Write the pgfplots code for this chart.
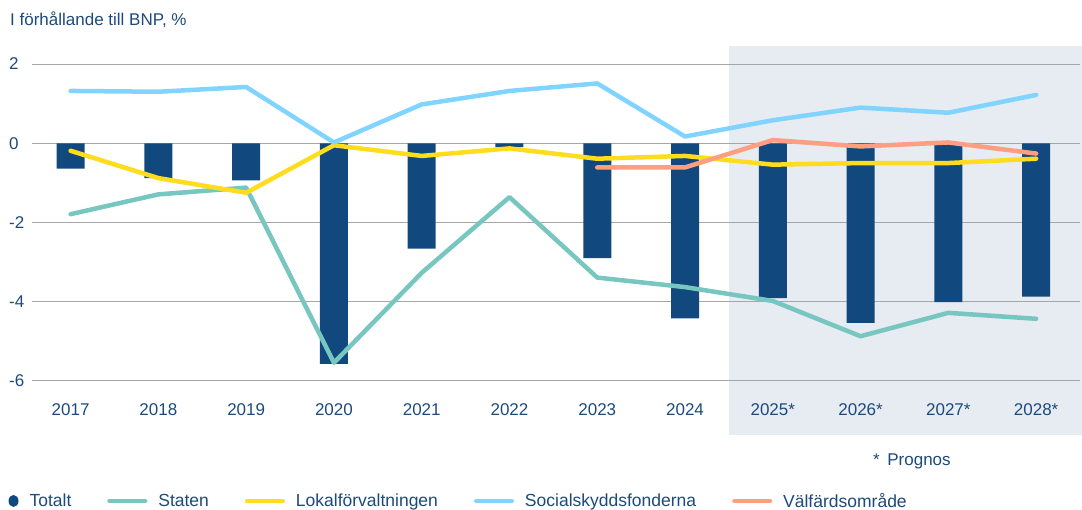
\documentclass[border=0pt]{standalone}
\usepackage{fontspec}
\setmainfont{Liberation Sans}
\usepackage{pgfplots}
\pgfplotsset{compat=1.18}

\definecolor{textblue}{RGB}{28,74,124}
\definecolor{gridgray}{RGB}{166,166,166}
\definecolor{prognosbg}{RGB}{231,235,242}
\definecolor{totalt}{RGB}{17,73,126}
\definecolor{staten}{RGB}{120,198,192}
\definecolor{lokal}{RGB}{255,221,30}
\definecolor{social}{RGB}{128,212,255}
\definecolor{valfard}{RGB}{255,158,128}

\begin{document}
\begin{tikzpicture}
\begin{axis}[
    at={(32pt,128pt)}, anchor=south west,
    width=1048pt, height=317pt, scale only axis,
    xmin=-0.44, xmax=11.5, ymin=-6, ymax=2,
    set layers, clip=false,
    axis line style={draw=none},
    major tick length=0pt,
    xtick={0,...,11},
    xticklabels={2017,2018,2019,2020,2021,2022,2023,2024,2025*,2026*,2027*,2028*},
    ytick={-6,-4,-2,0,2},
    yticklabels={-6,-4,-2,0,2},
    ymajorgrids,
    grid style={line width=1pt, color=gridgray},
    tick label style={font=\fontsize{17pt}{20pt}\selectfont, text=textblue, inner sep=0pt},
    yticklabel style={anchor=west, xshift=-23pt},
    xticklabel style={anchor=north, yshift=-22pt},
    legend columns=-1,
    legend cell align=left,
    legend style={draw=none, fill=none, inner sep=0pt, outer sep=0pt,
        at={(axis description cs:-0.0224,-0.3785)}, anchor=west,
        font=\fontsize{17.5pt}{20pt}\selectfont, text=textblue,
        nodes={inner sep=0pt},
        /tikz/every odd column/.append style={column sep=11pt},
        /tikz/every even column/.append style={column sep=36pt}},
    every axis plot/.append style={line width=4.5pt, line join=round, line cap=round},
    legend image code/.code={\draw[#1, line width=4pt, line cap=round] (0pt,0pt) -- (36pt,0pt);},
]
% prognosis shading behind the grid
\begin{pgfonlayer}{axis background}
\fill[prognosbg] (axis cs:7.5,-7.36) rectangle (axis cs:11.7,2.45);
\end{pgfonlayer}

\addplot[ybar, bar width=28pt, fill=totalt, draw=none,
    legend image code/.code={\fill[totalt] (5.5pt,0pt) ellipse (5pt and 6pt);}]
    coordinates {(0,-0.64) (1,-0.88) (2,-0.94) (3,-5.57) (4,-2.66) (5,-0.10)
                 (6,-2.90) (7,-4.42) (8,-3.91) (9,-4.53) (10,-4.01) (11,-3.87)};
\addplot[staten, no marks]
    coordinates {(0,-1.79) (1,-1.29) (2,-1.12) (3,-5.54) (4,-3.27) (5,-1.36)
                 (6,-3.39) (7,-3.63) (8,-3.98) (9,-4.87) (10,-4.28) (11,-4.43)};
\addplot[lokal, no marks]
    coordinates {(0,-0.19) (1,-0.88) (2,-1.25) (3,-0.05) (4,-0.32) (5,-0.13)
                 (6,-0.39) (7,-0.32) (8,-0.54) (9,-0.50) (10,-0.50) (11,-0.39)};
\addplot[social, no marks]
    coordinates {(0,1.32) (1,1.30) (2,1.42) (3,0.02) (4,0.98) (5,1.32)
                 (6,1.51) (7,0.17) (8,0.58) (9,0.90) (10,0.77) (11,1.22)};
\addplot[valfard, no marks]
    coordinates {(6,-0.61) (7,-0.61) (8,0.08) (9,-0.08) (10,0.02) (11,-0.26)};
\legend{Totalt, Staten, Lokalförvaltningen, Socialskyddsfonderna, Välfärdsområde}
\end{axis}
\node[anchor=base west, inner sep=0pt, text=textblue, font=\fontsize{17pt}{20pt}\selectfont]
    at (10pt,483pt) {I förhållande till BNP, \%};
\node[anchor=base west, inner sep=0pt, text=textblue, font=\fontsize{17pt}{20pt}\selectfont]
    at (873pt,43pt) {*\, Prognos};
\pgfresetboundingbox
\useasboundingbox (0pt,0pt) rectangle (1082pt,509pt);
\end{tikzpicture}
\end{document}
